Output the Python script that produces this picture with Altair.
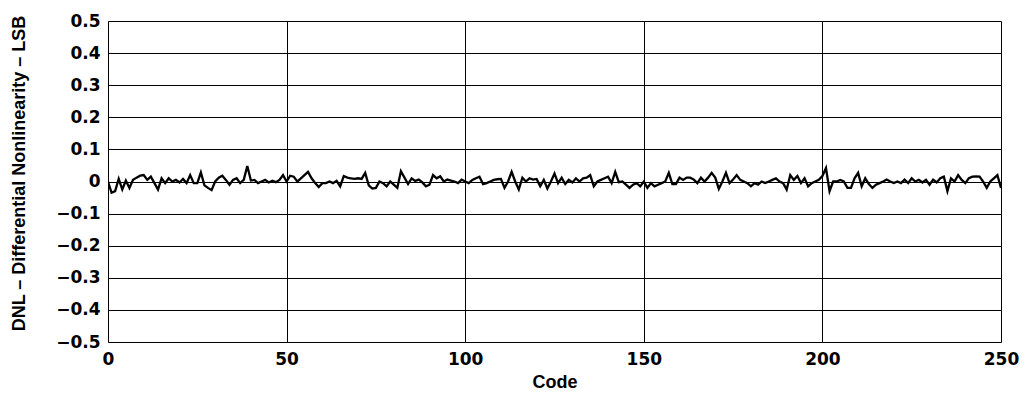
import altair as alt
import pandas as pd

codes = list(range(0, 251))
dnl = [
    0.0, -0.035, -0.03, 0.008, -0.025, 0.003, -0.02, 0.005, 0.012, 0.018,
    0.02, 0.005, 0.015, -0.005, -0.025, 0.01, -0.005, 0.01, 0.0, 0.005,
    -0.003, 0.008, -0.005, 0.02, -0.005, -0.005, 0.028, -0.012, -0.02, -0.027,
    0.0, 0.012, 0.018, 0.005, -0.01, 0.005, 0.01, -0.005, 0.005, 0.048,
    0.003, 0.005, -0.005, 0.0, 0.005, -0.003, 0.002, -0.002, 0.005, 0.02,
    0.0, 0.018, 0.015, 0.0, 0.01, 0.02, 0.03, 0.01, -0.005, -0.017,
    -0.005, -0.005, 0.0, -0.005, 0.002, -0.015, 0.017, 0.012, 0.01, 0.008,
    0.01, 0.008, 0.027, -0.012, -0.022, -0.02, 0.0, -0.005, -0.015, 0.0,
    -0.01, -0.02, 0.032, 0.012, -0.008, 0.01, 0.002, 0.006, -0.003, -0.015,
    -0.01, 0.02, 0.01, 0.016, 0.0, 0.006, 0.003, 0.0, -0.005, 0.006,
    0.0, -0.005, 0.005, 0.01, 0.015, -0.008, -0.005, 0.0, 0.005, 0.007,
    0.008, -0.02, 0.0, 0.03, 0.0, -0.025, 0.012, 0.0, 0.01, 0.006,
    0.008, -0.015, 0.005, -0.022, 0.0, 0.025, -0.005, 0.012, -0.008, 0.005,
    -0.003, 0.01, 0.0, 0.01, 0.012, 0.02, -0.015, 0.0, 0.005, 0.01,
    0.015, -0.005, 0.03, -0.002, 0.0, -0.01, -0.02, -0.01, -0.005, -0.015,
    0.0, -0.02, -0.005, -0.015, -0.01, -0.005, 0.0, 0.027, -0.008, -0.008,
    0.012, 0.005, 0.012, 0.012, 0.006, -0.005, 0.012, 0.0, 0.012, 0.027,
    0.012, -0.023, 0.0, 0.027, -0.005, 0.006, 0.02, 0.005, 0.0, -0.005,
    -0.015, -0.005, -0.01, 0.0, -0.005, 0.0, 0.005, 0.01, 0.0, -0.005,
    -0.025, 0.02, 0.005, 0.017, -0.005, 0.01, -0.015, -0.005, 0.0, 0.005,
    0.017, 0.042, -0.03, 0.0, 0.0, 0.005, 0.0, -0.02, -0.02, 0.01,
    0.027, -0.015, 0.01, -0.008, -0.02, -0.01, -0.005, 0.0, 0.006, 0.0,
    -0.005, 0.0, -0.005, 0.006, -0.005, 0.01, 0.0, 0.005, -0.003, 0.005,
    -0.01, 0.006, -0.003, 0.01, 0.015, -0.03, 0.01, 0.0, 0.02, 0.005,
    -0.005, 0.01, 0.015, 0.016, 0.015, 0.0, -0.02, 0.0, 0.01, 0.02,
    -0.02,
]
x_ticks = [0, 50, 100, 150, 200, 250]
y_ticks = [-0.5, -0.4, -0.3, -0.2, -0.1, 0.0, 0.1, 0.2, 0.3, 0.4, 0.5]

df = pd.DataFrame({"code": codes, "dnl": dnl})

TITLE_FONT = "Liberation Sans"
LABEL_FONT = "DejaVu Sans"

chart = (
    alt.Chart(df)
    .mark_line(color="black", strokeWidth=2.3, clip=True)
    .encode(
        x=alt.X(
            "code:Q",
            scale=alt.Scale(domain=[0, 250], nice=False, zero=False),
            axis=alt.Axis(
                values=x_ticks,
                title="Code",
                grid=True,
                gridColor="black",
                gridWidth=1,
                gridOpacity=1,
                ticks=False,
                domain=False,
                labelFlush=False,
                labelFont=LABEL_FONT,
                labelFontSize=17,
                labelFontWeight="bold",
                labelColor="black",
                labelPadding=9,
                titleFont=TITLE_FONT,
                titleFontSize=18,
                titleFontWeight="bold",
                titleColor="black",
                titlePadding=6,
            ),
        ),
        y=alt.Y(
            "dnl:Q",
            scale=alt.Scale(domain=[-0.5, 0.5], nice=False, zero=False),
            axis=alt.Axis(
                values=y_ticks,
                title="DNL – Differential Nonlinearity – LSB",
                labelExpr="datum.value == 0 ? '0' : replace(format(datum.value, '.1f'), '-', '−')",
                grid=True,
                gridColor="black",
                gridWidth=1,
                gridOpacity=1,
                ticks=False,
                domain=False,
                labelFlush=False,
                labelFont=LABEL_FONT,
                labelFontSize=17,
                labelFontWeight="bold",
                labelColor="black",
                labelPadding=8,
                titleFont=TITLE_FONT,
                titleFontSize=18,
                titleFontWeight="bold",
                titleColor="black",
                titleX=-89,
                titleY=152,
                titleAlign="center",
                titleBaseline="middle",
                titleAngle=270,
            ),
        ),
    )
    .properties(
        width=893,
        height=321,
        autosize=alt.AutoSizeParams(type="none"),
        padding={"left": 100, "top": 13, "right": 18, "bottom": 60},
    )
    .configure_view(stroke="black", strokeWidth=2)
    .configure(background="white")
)

chart.save("out.html", embed_options={"renderer": "svg", "actions": False})
